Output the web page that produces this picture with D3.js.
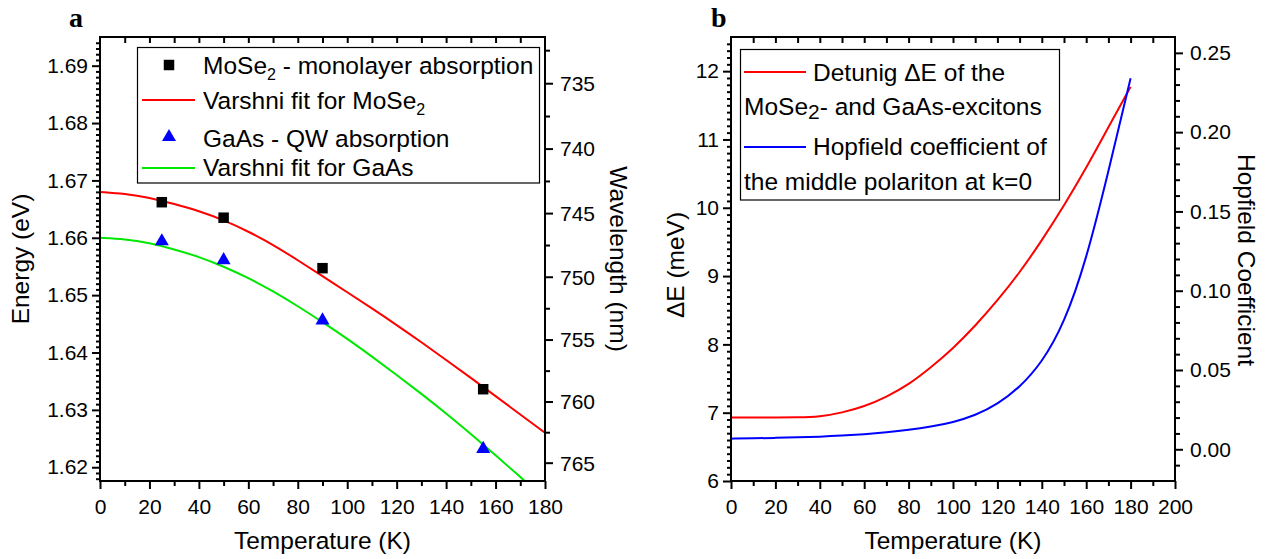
<!DOCTYPE html>
<html><head><meta charset="utf-8">
<script src="https://cdn.jsdelivr.net/npm/d3@7"></script>
<style>
body{margin:0;background:#fff}
svg{display:block}
text{font-family:"Liberation Sans",Arial,Helvetica,sans-serif;fill:#000}
</style>
</head><body>
<svg id="c" width="1269" height="559"></svg>
<script>
// ---------- data: panel a ----------
const fitTemps = [0,10,20,30,40,50,60,70,80,90,100,110,120,130,140,150,160,170,180];
const moSe2Fit = [1.6680,1.6677,1.6670,1.6659,1.6647,1.6631,1.6611,1.6588,1.6561,1.6533,1.6505,1.6477,1.6448,1.6418,1.6387,1.6356,1.6324,1.6292,1.6260];
const gaAsFitTemps = [0,10,20,30,40,50,60,70,80,90,100,110,120,130,140,150,160,170,172];
const gaAsFit = [1.6600,1.6598,1.6591,1.6580,1.6567,1.6550,1.6530,1.6507,1.6481,1.6453,1.6424,1.6393,1.6361,1.6328,1.6294,1.6258,1.6221,1.6183,1.6175];
const measTemps = [25,50,90,155];
const moSe2Abs = [1.6662,1.6635,1.6547,1.6336];
const gaAsAbs = [1.6594,1.6561,1.6456,1.6232];
const energyTicks = [1.62,1.63,1.64,1.65,1.66,1.67,1.68,1.69];
const wavelengthTicks = [735,740,745,750,755,760,765];
const wavelengthMinor = [732.5,737.5,742.5,747.5,752.5,757.5,762.5];
const tempTicksA = [0,20,40,60,80,100,120,140,160,180];

// ---------- data: panel b ----------
const detuneTemps = [0,10,20,30,40,50,60,70,80,90,100,110,120,130,140,150,160,170,180];
const detuning = [6.93,6.93,6.93,6.93,6.94,7.00,7.09,7.23,7.41,7.66,7.94,8.27,8.64,9.05,9.52,10.03,10.58,11.18,11.77];
const hopfield = [0.0067,0.0069,0.0072,0.0075,0.0079,0.0086,0.0095,0.0107,0.0122,0.0142,0.0170,0.0213,0.0283,0.0390,0.0545,0.0790,0.1190,0.1750,0.2340];
const deltaTicks = [6,7,8,9,10,11,12];
const hopTicks = [0.00,0.05,0.10,0.15,0.20,0.25];
const tempTicksB = [0,20,40,60,80,100,120,140,160,180,200];

const HC = 1239.84;
const svg = d3.select("#c");
const FS = 21;

// ---------- layout ----------
const A = {l:100, r:545, t:37, b:481};
const B = {l:731, r:1175, t:37, b:481};

const xA = d3.scaleLinear().domain([0,180]).range([A.l,A.r]);
const yA = d3.scaleLinear().domain([1.6176,1.6950]).range([A.b,A.t]);
const xB = d3.scaleLinear().domain([0,200]).range([B.l,B.r]);
const yB = d3.scaleLinear().domain([6,12.5]).range([B.b,B.t]);
const yB2 = d3.scaleLinear().domain([-0.02,0.26]).range([B.b,B.t]);

function styleAxis(g){
  g.select(".domain").remove();
  g.selectAll(".tick line").attr("stroke","#000").attr("stroke-width",2);
  g.selectAll(".tick text").style("font-size",FS+"px").style("font-family",'"Liberation Sans",Arial,sans-serif');
  return g;
}
function range(a,b,s){const r=[];for(let v=a;v<=b+1e-9;v+=s)r.push(+v.toFixed(6));return r;}

// ---------- panel a axes ----------
svg.append("g").attr("transform",`translate(0,${A.b})`)
  .call(d3.axisBottom(xA).tickValues(tempTicksA).tickSize(8).tickPadding(10).tickFormat(d3.format("d"))).call(styleAxis);
svg.append("g").attr("transform",`translate(0,${A.b})`)
  .call(d3.axisBottom(xA).tickValues(range(10,170,20)).tickSize(5).tickFormat("")).call(styleAxis);
svg.append("g").attr("transform",`translate(0,${A.t})`)
  .call(d3.axisTop(xA).tickValues(range(10,170,10)).tickSize(-6).tickFormat("")).call(styleAxis);
svg.append("g").attr("transform",`translate(${A.l},0)`)
  .call(d3.axisLeft(yA).tickValues(energyTicks).tickSize(8).tickPadding(4).tickFormat(d3.format(".2f"))).call(styleAxis);
svg.append("g").attr("transform",`translate(${A.l},0)`)
  .call(d3.axisLeft(yA).tickValues(range(1.618,1.694,0.001).filter(v=>Math.abs(v*100-Math.round(v*100))>1e-6)).tickSize(4).tickFormat("")).call(styleAxis);
// right: wavelength (nonlinear, via energy scale)
const wl = svg.append("g");
wl.selectAll("line.maj").data(wavelengthTicks).join("line").attr("class","maj")
  .attr("x1",A.r).attr("x2",A.r+8).attr("y1",d=>yA(HC/d)).attr("y2",d=>yA(HC/d))
  .attr("stroke","#000").attr("stroke-width",2);
wl.selectAll("line.min").data(wavelengthMinor.filter(d=>HC/d<=1.695 && HC/d>=1.6176)).join("line").attr("class","min")
  .attr("x1",A.r).attr("x2",A.r+5).attr("y1",d=>yA(HC/d)).attr("y2",d=>yA(HC/d))
  .attr("stroke","#000").attr("stroke-width",2);
wl.selectAll("text").data(wavelengthTicks).join("text")
  .attr("x",A.r+15).attr("y",d=>yA(HC/d)).attr("dy","0.35em")
  .style("font-size",FS+"px").text(d=>d);

// ---------- panel b axes ----------
svg.append("g").attr("transform",`translate(0,${B.b})`)
  .call(d3.axisBottom(xB).tickValues(tempTicksB).tickSize(8).tickPadding(10).tickFormat(d3.format("d"))).call(styleAxis);
svg.append("g").attr("transform",`translate(0,${B.b})`)
  .call(d3.axisBottom(xB).tickValues(range(10,190,20)).tickSize(5).tickFormat("")).call(styleAxis);
svg.append("g").attr("transform",`translate(0,${B.t})`)
  .call(d3.axisTop(xB).tickValues(range(10,190,10)).tickSize(-6).tickFormat("")).call(styleAxis);
svg.append("g").attr("transform",`translate(${B.l},0)`)
  .call(d3.axisLeft(yB).tickValues(deltaTicks).tickSize(8).tickPadding(4).tickFormat(d3.format("d"))).call(styleAxis);
svg.append("g").attr("transform",`translate(${B.l},0)`)
  .call(d3.axisLeft(yB).tickValues(range(6.1,12.4,0.1).filter(v=>Math.abs(v-Math.round(v))>1e-6)).tickSize(4).tickFormat("")).call(styleAxis);
svg.append("g").attr("transform",`translate(${B.r},0)`)
  .call(d3.axisRight(yB2).tickValues(hopTicks).tickSize(8).tickPadding(7).tickFormat(d3.format(".2f"))).call(styleAxis);
svg.append("g").attr("transform",`translate(${B.r},0)`)
  .call(d3.axisRight(yB2).tickValues([-0.01,0.01,0.02,0.03,0.04,0.06,0.07,0.08,0.09,0.11,0.12,0.13,0.14,0.16,0.17,0.18,0.19,0.21,0.22,0.23,0.24]).tickSize(5).tickFormat("")).call(styleAxis);

// ---------- clip paths ----------
const defs = svg.append("defs");
defs.append("clipPath").attr("id","clipA").append("rect").attr("x",A.l).attr("y",A.t).attr("width",A.r-A.l).attr("height",A.b-A.t);
defs.append("clipPath").attr("id","clipB").append("rect").attr("x",B.l).attr("y",B.t).attr("width",B.r-B.l).attr("height",B.b-B.t);

// ---------- panel a marks ----------
const lineA = d3.line().curve(d3.curveBasis);
const gA = svg.append("g").attr("clip-path","url(#clipA)");
gA.append("path").attr("d",lineA(fitTemps.map((t,i)=>[xA(t),yA(moSe2Fit[i])])))
  .attr("fill","none").attr("stroke","#ff0000").attr("stroke-width",2);
gA.append("path").attr("d",lineA(gaAsFitTemps.map((t,i)=>[xA(t),yA(gaAsFit[i])])))
  .attr("fill","none").attr("stroke","#00e800").attr("stroke-width",2);
gA.selectAll("path.sq").data(measTemps).join("path").attr("class","sq")
  .attr("transform",(t,i)=>`translate(${xA(t)},${yA(moSe2Abs[i])})`)
  .attr("d",d3.symbol(d3.symbolSquare,110)).attr("fill","#000");
gA.selectAll("path.tri").data(measTemps).join("path").attr("class","tri")
  .attr("transform",(t,i)=>`translate(${xA(t)},${yA(gaAsAbs[i])})`)
  .attr("d",d3.symbol(d3.symbolTriangle,85)).attr("fill","#0000ff");

// ---------- panel b marks ----------
const gB = svg.append("g").attr("clip-path","url(#clipB)");
gB.append("path").attr("d",lineA(detuneTemps.map((t,i)=>[xB(t),yB(detuning[i])])))
  .attr("fill","none").attr("stroke","#ff0000").attr("stroke-width",2);
gB.append("path").attr("d",lineA(detuneTemps.map((t,i)=>[xB(t),yB2(hopfield[i])])))
  .attr("fill","none").attr("stroke","#0000ff").attr("stroke-width",2);

// ---------- frames ----------
[A,B].forEach(p=>svg.append("rect").attr("x",p.l).attr("y",p.t).attr("width",p.r-p.l).attr("height",p.b-p.t)
  .attr("fill","none").attr("stroke","#000").attr("stroke-width",2));

// ---------- axis titles ----------
const TS = 24.5;
svg.append("text").attr("x",(A.l+A.r)/2).attr("y",549).attr("text-anchor","middle").style("font-size",TS+"px").text("Temperature (K)");
svg.append("text").attr("x",(B.l+B.r)/2).attr("y",549).attr("text-anchor","middle").style("font-size",TS+"px").text("Temperature (K)");
svg.append("text").attr("transform",`translate(29,${(A.t+A.b)/2}) rotate(-90)`).attr("text-anchor","middle").style("font-size",TS+"px").text("Energy (eV)");
svg.append("text").attr("transform",`translate(610,${(A.t+A.b)/2}) rotate(90)`).attr("text-anchor","middle").style("font-size",TS+"px").text("Wavelength (nm)");
svg.append("text").attr("transform",`translate(684,265) rotate(-90)`).attr("text-anchor","middle").style("font-size",TS+"px").text("\u0394E (meV)");
svg.append("text").attr("transform",`translate(1238,260) rotate(90)`).attr("text-anchor","middle").style("font-size",TS+"px").text("Hopfield Coefficient");

// panel letters
svg.append("text").attr("x",69).attr("y",27).style("font-family",'"Liberation Serif","Times New Roman",serif').style("font-weight","bold").style("font-size","28px").text("a");
svg.append("text").attr("x",711).attr("y",27).style("font-family",'"Liberation Serif","Times New Roman",serif').style("font-weight","bold").style("font-size","28px").text("b");

// ---------- legend a ----------
const LS = 24.5;
const legA = svg.append("g");
legA.append("rect").attr("x",137.5).attr("y",47.5).attr("width",402).attr("height",135.5).attr("fill","#fff").attr("stroke","#000").attr("stroke-width",1.2);
legA.append("path").attr("transform","translate(169,65)").attr("d",d3.symbol(d3.symbolSquare,110)).attr("fill","#000");
legA.append("line").attr("x1",142).attr("x2",195).attr("y1",100).attr("y2",100).attr("stroke","#ff0000").attr("stroke-width",2);
legA.append("path").attr("transform","translate(169,137)").attr("d",d3.symbol(d3.symbolTriangle,85)).attr("fill","#0000ff");
legA.append("line").attr("x1",142).attr("x2",195).attr("y1",168).attr("y2",168).attr("stroke","#00e800").attr("stroke-width",2);
function subText(g,x,y,pre,sub,post,subSize,subDy){
  const t = g.append("text").attr("x",x).attr("y",y).style("font-size",LS+"px");
  t.append("tspan").text(pre);
  t.append("tspan").attr("dy",subDy).style("font-size",subSize+"px").text(sub);
  if(post) t.append("tspan").attr("dy",-subDy).text(post);
  return t;
}
subText(legA,203,74,"MoSe","2"," - monolayer absorption",16,6);
subText(legA,203,109,"Varshni fit for MoSe","2","",16,6);
legA.append("text").attr("x",203).attr("y",147).style("font-size",LS+"px").text("GaAs - QW absorption");
legA.append("text").attr("x",203).attr("y",176).style("font-size",LS+"px").text("Varshni fit for GaAs");

// ---------- legend b ----------
const legB = svg.append("g");
legB.append("rect").attr("x",740.5).attr("y",49.5).attr("width",319).attr("height",150.5).attr("fill","#fff").attr("stroke","#000").attr("stroke-width",1.2);
legB.append("line").attr("x1",744).attr("x2",806).attr("y1",72).attr("y2",72).attr("stroke","#ff0000").attr("stroke-width",2);
legB.append("text").attr("x",813).attr("y",81).style("font-size",LS+"px").text("Detunig \u0394E of the");
subText(legB,744,115,"MoSe","2","- and GaAs-excitons",21,4);
legB.append("line").attr("x1",744).attr("x2",806).attr("y1",147).attr("y2",147).attr("stroke","#0000ff").attr("stroke-width",2);
legB.append("text").attr("x",813).attr("y",155).style("font-size",LS+"px").text("Hopfield coefficient of");
legB.append("text").attr("x",744).attr("y",190).style("font-size",LS+"px").text("the middle polariton at k=0");
</script>
</body></html>
